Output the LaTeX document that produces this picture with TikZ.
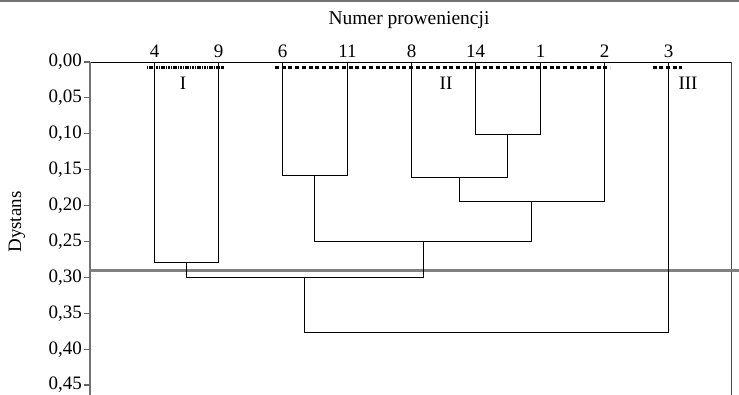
\documentclass[tikz,border=0pt]{standalone}
\usepackage{fontspec}
\setmainfont{Liberation Serif}
\begin{document}
\begin{tikzpicture}[x=1pt,y=-1pt,
  txt/.style={font=\fontsize{19}{21}\selectfont, inner sep=0pt},
  leaflab/.style={txt, anchor=base},
  ticklab/.style={txt, anchor=east},
  tree/.style={draw=black, line width=1.2pt},
  axisline/.style={draw=black!55, line width=1.8pt},
  cutline/.style={draw=black!50, line width=3pt},
  fine dots/.style={draw=black, line width=3pt, dash pattern=on 1.6pt off 0.8pt},
  square dots/.style={draw=black, line width=3.6pt, dash pattern=on 4pt off 2.7pt}]
\useasboundingbox (0,0) rectangle (739,395);
% top rule
\draw[black!55, line width=2pt] (0,1) -- (739,1);
% frame
\coordinate (tl) at (90,62.5);
\coordinate (tr) at (731.5,62.5);
\coordinate (bl) at (90,395);
\coordinate (br) at (731.5,395);
\draw[black, line width=1pt] (tl) -- (tr);
\draw[black!70, line width=1.2pt] (tr) -- (br);
\draw[axisline] (tl) -- (bl);
% ticks and labels
\foreach \v/\lab in {0/{0,00},0.05/{0,05},0.10/{0,10},0.15/{0,15},0.20/{0,20},0.25/{0,25},0.30/{0,30},0.35/{0,35},0.40/{0,40},0.45/{0,45}}{
  \draw[black!60, line width=1.2pt] (84,{62+718*\v}) -- (90,{62+718*\v});
  \node[ticklab] at (82,{62+718*\v}) {\lab};
}
\node[txt, font=\fontsize{19.5}{21}\selectfont] (title) at (409,20) {Numer proweniencji};
\node[txt, rotate=90] (ylab) at (17,222) {Dystans};
% leaves
\foreach \n/\x in {4/154.5,9/218.5,6/282.5,11/347.5,8/411.5,14/475.5,1/540.5,2/604.5,3/668.5}{
  \coordinate (l\n) at (\x,62.5);
  \node[leaflab] (t\n) at (\x,57.5) {\n};
}
% cut line
\draw[cutline] (90,271) -- (739,271);
% group markers
\coordinate (gIa) at (146.5,67.5); \coordinate (gIb) at (224,67.5);
\coordinate (gIIa) at (275,67.5); \coordinate (gIIb) at (610,67.5);
\coordinate (gIIIa) at (652.5,67.5); \coordinate (gIIIb) at (682,67.5);
\draw[fine dots] (gIa) -- (gIb);
\draw[square dots] (gIIa) -- (gIIb);
\draw[square dots] (gIIIa) -- (gIIIb);
\node[leaflab] (gI) at (183,89.5) {I};
\node[leaflab] (gII) at (446,89.5) {II};
\node[leaflab] (gIII) at (688,89.5) {III};
% merges
\coordinate (m141) at (507.5,134.5);
\coordinate (m8) at (459.5,177.5);
\coordinate (m611) at (314.5,175.5);
\coordinate (m2) at (531.5,201.5);
\coordinate (mA) at (423.5,241.5);
\coordinate (m49) at (186.5,262.5);
\coordinate (mB) at (304.5,277.5);
\coordinate (mC) at (486.5,332.5);
\draw[tree] (l14) |- (m141) -| (l1);
\draw[tree] (l8) |- (m8) -| (m141);
\draw[tree] (l6) |- (m611) -| (l11);
\draw[tree] (m8) |- (m2) -| (l2);
\draw[tree] (m611) |- (mA) -| (m2);
\draw[tree] (l4) |- (m49) -| (l9);
\draw[tree] (m49) |- (mB) -| (mA);
\draw[tree] (mB) |- (mC) -| (l3);
\end{tikzpicture}
\end{document}
